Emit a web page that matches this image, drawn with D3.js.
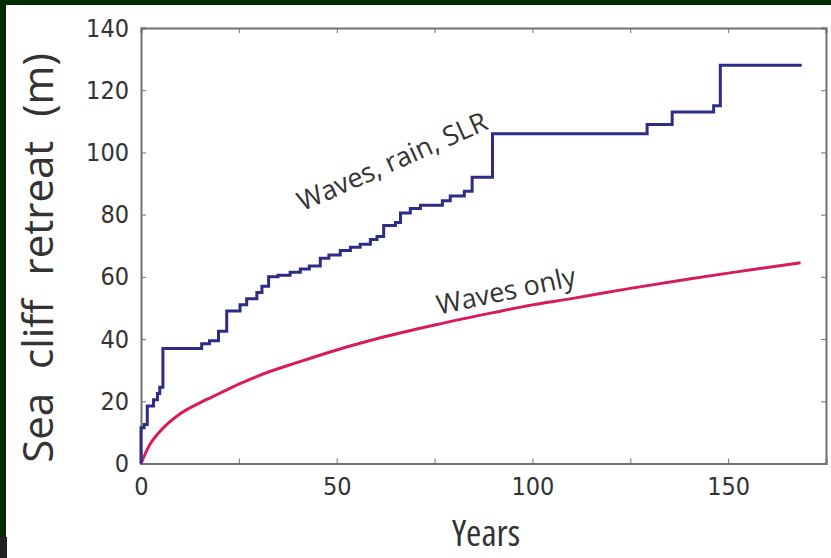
<!DOCTYPE html>
<meta charset="utf-8">
<style>
body { margin: 0; background: #fff; }
svg { display: block; }
.axis path, .axis line { stroke: #707070; }
.axis path { stroke-width: 2px; }
.axis text { font-family: "DejaVu Sans Condensed", "Liberation Sans Narrow", sans-serif; font-stretch: condensed; font-size: 25px; fill: #333; }
.label { font-family: "Open Sans", "Noto Sans", sans-serif; fill: #333; }
</style>
<body>
<script src="https://d3js.org/d3.v7.min.js"></script>
<script>
// blue step series (waves, rain, SLR)
var stepYears = [0, 0, 0.8, 1.6, 3.2, 4.2, 4.8, 5.6, 15.5, 17.5, 19.8, 21.9, 25.3, 27, 29.6, 30.9, 32.6, 35, 38.1, 40.7, 43, 45.8, 48, 50.9, 53.5, 56, 58.6, 60.3, 62, 65, 66.3, 68.8, 71.4, 77, 79, 82.6, 84.6, 89.8, 129.3, 135.7, 146.3, 148, 168.8];
var stepRetreat = [0, 11.5, 12.5, 18.5, 20.5, 22.5, 24.5, 37, 38.5, 39.5, 42.5, 49, 51, 53, 55, 57, 60, 60.5, 61.5, 62.5, 63.5, 66, 67, 68.5, 69.5, 70.5, 72, 73, 76.5, 77.5, 80.5, 82, 83, 84.5, 86, 87.5, 92, 106, 109, 113, 115, 128, 128];

// red smooth series (waves only)
var waveYears = [0, 2, 5, 10, 15, 20, 25, 30, 40, 50, 60, 75, 90, 100, 110, 125, 140, 150, 160, 168.5];
var waveRetreat = [0, 5.5, 10.5, 16, 19.5, 22.5, 25.5, 28.2, 32.5, 36.5, 40, 44.5, 48.5, 51, 53, 56.3, 59.3, 61.2, 63, 64.5];

var xTicks = [0, 25, 50, 75, 100, 125, 150];
var yTicks = [0, 20, 40, 60, 80, 100, 120, 140];

var W = 831, H = 558;
var margin = {left: 141, right: 5, top: 28, bottom: 94.5};

var svg = d3.select("body").append("svg")
    .attr("width", W)
    .attr("height", H);

svg.append("rect").attr("width", W).attr("height", H).attr("fill", "#fff");
svg.append("rect").attr("width", W).attr("height", 5).attr("fill", "#032c03");
svg.append("rect").attr("width", 6).attr("height", 537).attr("fill", "#032c03");
svg.append("rect").attr("y", 537).attr("width", 7).attr("height", 21).attr("fill", "#222");

var x = d3.scaleLinear().domain([0, 175]).range([margin.left, W - margin.right]);
var y = d3.scaleLinear().domain([0, 140]).range([H - margin.bottom, margin.top]);

var fmt = function(d) { return d % 50 === 0 ? d : ""; };

svg.append("g").attr("class", "axis")
    .attr("transform", "translate(0," + y(0) + ")")
    .call(d3.axisBottom(x).tickValues(xTicks).tickSize(-5).tickPadding(14).tickFormat(fmt));
svg.append("g").attr("class", "axis")
    .attr("transform", "translate(0," + y(140) + ")")
    .call(d3.axisTop(x).tickValues(xTicks).tickSize(-5).tickFormat(""));
svg.append("g").attr("class", "axis")
    .attr("transform", "translate(" + x(0) + ",0)")
    .call(d3.axisLeft(y).tickValues(yTicks).tickSize(-5).tickPadding(12));
svg.append("g").attr("class", "axis")
    .attr("transform", "translate(" + x(175) + ",0)")
    .call(d3.axisRight(y).tickValues(yTicks).tickSize(-5).tickFormat(""));

var waveData = waveYears.map(function(d, i) { return [d, waveRetreat[i]]; });
var stepData = stepYears.map(function(d, i) { return [d, stepRetreat[i]]; });

svg.append("path")
    .datum(waveData)
    .attr("fill", "none")
    .attr("stroke", "#d81b5c")
    .attr("stroke-width", 3)
    .attr("d", d3.line().x(function(d) { return x(d[0]); }).y(function(d) { return y(d[1]); }).curve(d3.curveMonotoneX));

svg.append("path")
    .datum(stepData)
    .attr("fill", "none")
    .attr("stroke", "#2e2c86")
    .attr("stroke-width", 3)
    .attr("d", d3.line().x(function(d) { return x(d[0]); }).y(function(d) { return y(d[1]); }).curve(d3.curveStepAfter));

// in-plot labels
svg.append("text").attr("class", "label")
    .attr("transform", "translate(396,170) rotate(-24)")
    .attr("text-anchor", "middle")
    .style("font-size", "27px")
    .text("Waves, rain, SLR");

svg.append("text").attr("class", "label")
    .attr("transform", "translate(508,300) rotate(-12)")
    .attr("text-anchor", "middle")
    .style("font-size", "27px")
    .text("Waves only");

// axis titles
svg.append("text").attr("class", "label")
    .attr("x", 486).attr("y", 546)
    .attr("text-anchor", "middle")
    .style("font-size", "37px")
    .style("font-stretch", "condensed")
    .text("Years");

svg.append("text").attr("class", "label")
    .attr("transform", "translate(53,258) rotate(-90)")
    .attr("text-anchor", "middle")
    .style("font-size", "42px")
    .style("word-spacing", "13px")
    .text("Sea cliff retreat (m)");
</script>
</body>
